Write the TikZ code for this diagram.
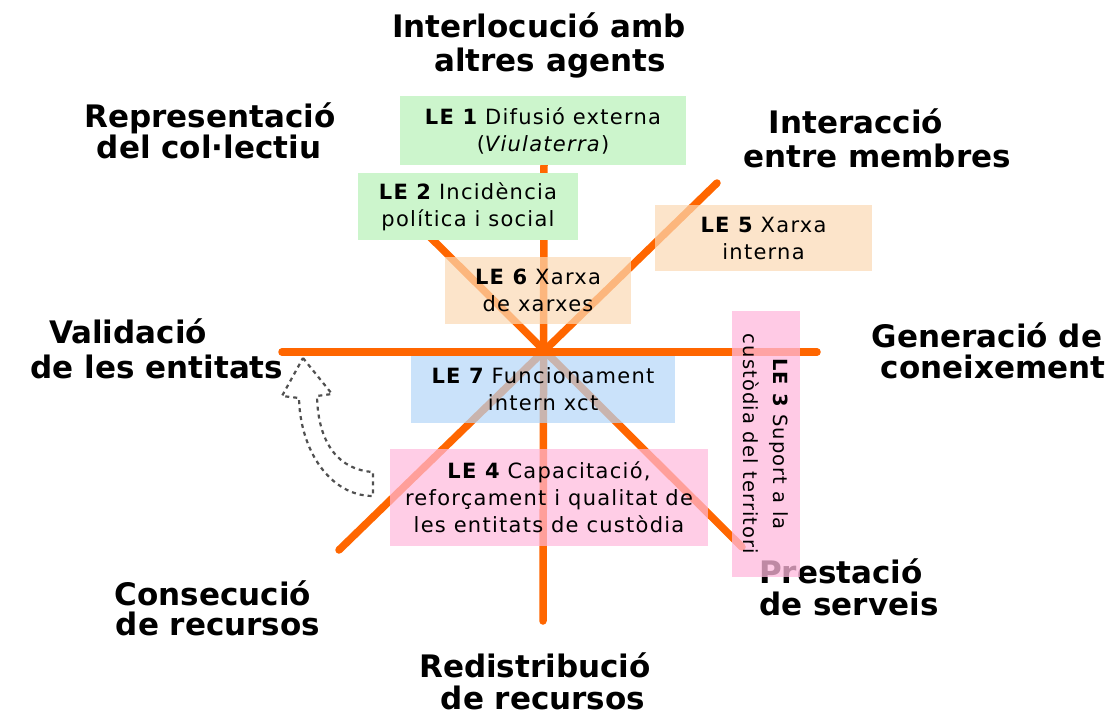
\documentclass[tikz,border=0pt]{standalone}
\usepackage{fontspec}
\newfontfamily\boxfont[LetterSpace=6]{DejaVu Sans}
\newfontfamily\lblfont{DejaVu Sans}
\definecolor{axisorange}{HTML}{FF6600}
\definecolor{legreen}{HTML}{CCF5CC}
\definecolor{lepeach}{HTML}{FBD9B3}
\definecolor{leblue}{HTML}{B3D6F8}
\definecolor{lepink}{HTML}{FFB8DC}
\definecolor{arrowgray}{HTML}{505050}
\tikzset{
  axisline/.style={draw=axisorange, line width=7.5pt, line cap=round},
  lebox/.style={draw=none, inner sep=0pt, align=center, text=black,
    font={\boxfont\fontsize{21}{27}\selectfont}},
  seethrough/.style={fill opacity=0.7, text opacity=1},
  lbl/.style={anchor=base, inner sep=0pt, text=black,
    font={\lblfont\bfseries\fontsize{31}{34}\selectfont}},
  hollowarrow/.style={draw=arrowgray, line width=2.2pt, dash pattern=on 4pt off 4pt, line join=round}
}
\begin{document}
\begin{tikzpicture}[x=1pt,y=-1pt]
\useasboundingbox (0,0) rectangle (1106,715);
% axis end points
\coordinate (vtop) at (544,163);
\coordinate (vbot) at (543,621);
\coordinate (hleft) at (282,352);
\coordinate (hright) at (817,352);
\coordinate (d1a) at (339,550);
\coordinate (d1b) at (717,183);
\coordinate (d2a) at (428,235);
\coordinate (d2b) at (742,547);
\draw[axisline] (vtop) -- (vbot);
\draw[axisline] (hleft) -- (hright);
\draw[axisline] (d1a) -- (d1b);
\draw[axisline] (d2a) -- (d2b);
% boxes
\node[lebox, fill=legreen, minimum width=286pt, minimum height=69pt] (le1) at (543,130.5)
  {{\bfseries LE 1} Difusió externa\\(\textit{Viulaterra})};
\node[lebox, fill=legreen, minimum width=220pt, minimum height=67pt] (le2) at (468,206.5)
  {{\bfseries LE 2} Incidència\\política i social};
\node[lebox, seethrough, fill=lepeach, minimum width=217pt, minimum height=66pt] (le5) at (763.5,238)
  {{\bfseries LE 5} Xarxa\\interna};
\node[lebox, seethrough, fill=lepeach, minimum width=186pt, minimum height=67pt] (le6) at (538,290.5)
  {{\bfseries LE 6} Xarxa\\de xarxes};
\node[lebox, seethrough, fill=leblue, minimum width=264pt, minimum height=67pt] (le7) at (543,389.5)
  {{\bfseries LE 7} Funcionament\\intern xct};
\node[lebox, seethrough, fill=lepink, minimum width=318pt, minimum height=97pt] (le4) at (549,497.5)
  {{\bfseries LE 4} Capacitació,\\reforçament i qualitat de\\les entitats de custòdia};
% axis labels
\node[lbl] (intA) at (539,37) {Interlocució amb};
\node[lbl] (intB) at (550,71) {altres agents};
\node[lbl] (repA) at (210,127) {Representació};
\node[lbl] (repB) at (209,158) {del col·lectiu};
\node[lbl] (inmA) at (856,133) {Interacció};
\node[lbl] (inmB) at (877,167) {entre membres};
\node[lbl] (valA) at (128,343) {Validació};
\node[lbl] (valB) at (157,378) {de les entitats};
\node[lbl] (genA) at (987,347) {Generació de};
\node[lbl] (genB) at (993,378) {coneixement};
\node[lbl] (conA) at (213,605) {Consecució};
\node[lbl] (conB) at (218,635) {de recursos};
\node[lbl] (preA) at (841,583) {Prestació};
\node[lbl] (preB) at (849,615) {de serveis};
\node[lbl] (redA) at (535,677) {Redistribució};
\node[lbl] (redB) at (543,709) {de recursos};
% LE3 vertical box (over the label)
\node[lebox, fill=lepink, fill opacity=0.75, text opacity=1, rotate=-90,
  minimum width=266pt, minimum height=68pt,
  font={\boxfont\fontsize{19.5}{30}\selectfont}] (le3) at (766,444)
  {{\bfseries LE 3} Suport a la\\custòdia del territori};
% hollow dashed curved arrow
\coordinate (tip) at (303,358);
\coordinate (rbarb) at (332,394);
\coordinate (rin) at (317,396);
\coordinate (etop) at (373,472);
\coordinate (ebot) at (373,496);
\coordinate (lin) at (299,398);
\coordinate (lbarb) at (282,396);
\draw[hollowarrow] (tip) -- (rbarb) -- (rin)
  .. controls (318,445) and (340,470) .. (etop) -- (ebot)
  .. controls (330,496) and (300,450) .. (lin) -- (lbarb) -- cycle;
\end{tikzpicture}
\end{document}
